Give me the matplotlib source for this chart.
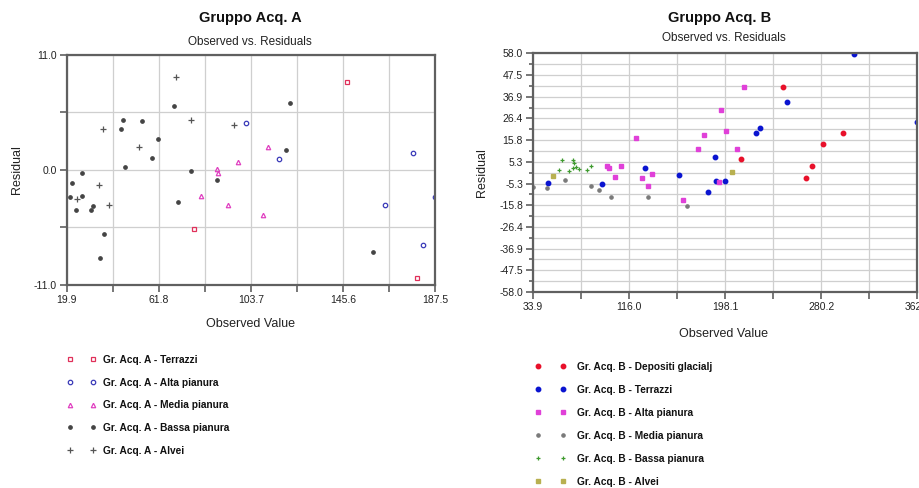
import matplotlib
matplotlib.use("Agg")
import matplotlib.pyplot as plt
from matplotlib.ticker import FixedLocator, FixedFormatter

plt.rcParams['font.family'] = ['Liberation Sans', 'DejaVu Sans']

# ---------------- Gruppo Acq. A ----------------
a_terrazzi_x = [147.6, 77.7, 179.2]
a_terrazzi_y = [8.42, -5.68, -10.36]

a_alta_x = [101.5, 116.5, 177.3, 164.6, 187.5, 182.2]
a_alta_y = [4.53, 1.08, 1.59, -3.32, -2.61, -7.21]

a_media_x = [88.5, 88.9, 97.7, 81.2, 93.5, 111.7, 109.1]
a_media_y = [0.06, -0.26, 0.73, -2.49, -3.35, 2.23, -4.27]

a_bassa_x = [68.7, 121.5, 45.5, 54.0, 44.5, 61.5, 58.7, 46.4, 26.7, 76.6,
             22.3, 88.2, 21.6, 26.7, 24.1, 30.8, 32.0, 70.6, 37.0, 35.2,
             159.4, 119.7]
a_bassa_y = [6.15, 6.38, 4.78, 4.69, 3.89, 2.93, 1.18, 0.32, -0.26, -0.13,
             -1.28, -0.96, -2.61, -2.52, -3.86, -3.83, -3.41, -3.09, -6.15, -8.42,
             -7.81, 1.91]

a_alvei_x = [69.5, 76.3, 96.0, 36.3, 52.8, 34.8, 24.5, 39.3]
a_alvei_y = [8.93, 4.75, 4.27, 3.89, 2.17, -1.47, -2.81, -3.38]

a_labels = ["Gr. Acq. A - Terrazzi", "Gr. Acq. A - Alta pianura",
            "Gr. Acq. A - Media pianura", "Gr. Acq. A - Bassa pianura",
            "Gr. Acq. A - Alvei"]
a_xticks = [19.9, 61.8, 103.7, 145.6, 187.5]
a_xtick_labels = ["19.9", "61.8", "103.7", "145.6", "187.5"]
a_yticks = [-11.0, 0.0, 11.0]
a_ytick_labels = ["-11.0", "0.0", "11.0"]

# ---------------- Gruppo Acq. B ----------------
b_glaciali_x = [247.4, 299.0, 281.9, 212.1, 272.2, 267.4]
b_glaciali_y = [41.66, 19.5, 14.0, 6.55, 3.0, -2.83]

b_terrazzi_x = [308.1, 250.8, 362.3, 228.3, 224.6, 189.8, 130.0, 158.8,
                190.1, 198.1, 183.8, 46.7, 93.5]
b_terrazzi_y = [57.5, 34.4, 24.5, 21.8, 19.2, 7.68, 2.18, -1.38,
                -4.13, -4.29, -9.63, -5.26, -5.42]

b_alta_x = [214.3, 194.4, 199.0, 180.4, 122.0, 175.3, 208.4, 97.2, 99.2,
            109.7, 104.6, 127.4, 136.0, 132.2, 193.0, 161.9]
b_alta_y = [41.66, 30.3, 20.1, 18.4, 16.6, 11.7, 11.4, 3.0, 2.5,
            3.0, -2.35, -2.67, -0.57, -6.7, -4.6, -13.5]

b_media_x = [34.5, 46.2, 83.8, 90.9, 101.2, 132.8, 61.8, 165.9]
b_media_y = [-6.9, -7.5, -6.4, -8.3, -11.6, -11.9, -3.5, -16.4]

b_bassa_x = [59.3, 68.1, 69.0, 56.7, 65.0, 68.4, 71.0, 73.8, 80.4, 84.1]
b_bassa_y = [6.1, 6.1, 4.8, 1.2, 0.56, 2.2, 2.67, 1.9, 1.05, 3.3]

b_alvei_x = [51.3, 204.1]
b_alvei_y = [-1.5, 0.24]

b_labels = ["Gr. Acq. B - Depositi glacialj", "Gr. Acq. B - Terrazzi",
            "Gr. Acq. B - Alta pianura", "Gr. Acq. B - Media pianura",
            "Gr. Acq. B - Bassa pianura", "Gr. Acq. B - Alvei"]
b_xticks = [33.9, 116.0, 198.1, 280.2, 362.3]
b_xtick_labels = ["33.9", "116.0", "198.1", "280.2", "362.3"]
b_yticks = [58.0, 47.5, 36.9, 26.4, 15.8, 5.3, -5.3, -15.8, -26.4, -36.9, -47.5, -58.0]
b_ytick_labels = ["58.0", "47.5", "36.9", "26.4", "15.8", "5.3", "-5.3",
                  "-15.8", "-26.4", "-36.9", "-47.5", "-58.0"]

SPINE = "#606060"
GRID = "#cfcfcf"
TXT = "#222222"


def style_axes(ax, xticks, xlabels, yticks, ylabels, xminor, yminor):
    ax.set_axisbelow(True)
    for s in ax.spines.values():
        s.set_color(SPINE)
        s.set_linewidth(1.6)
    ax.xaxis.set_major_locator(FixedLocator(xticks))
    ax.xaxis.set_major_formatter(FixedFormatter(xlabels))
    ax.yaxis.set_major_locator(FixedLocator(yticks))
    ax.yaxis.set_major_formatter(FixedFormatter(ylabels))
    ax.xaxis.set_minor_locator(FixedLocator(xminor))
    ax.yaxis.set_minor_locator(FixedLocator(yminor))
    ax.tick_params(which='both', direction='out', color=SPINE, width=1.2,
                   length=5, labelsize=7.5, labelcolor=TXT, pad=2)
    ax.grid(which='both', color=GRID, linewidth=0.9)


fig = plt.figure(figsize=(9.2, 4.88), dpi=100)

# ---- chart A ----
axA = fig.add_axes([66.7 / 920, 1 - 285 / 488, 368.3 / 920, 230 / 488])
h1, = axA.plot(a_terrazzi_x, a_terrazzi_y, 's', ms=3.2, mfc='none', mec='#e0305a', mew=0.9, ls='none')
h2, = axA.plot(a_alta_x, a_alta_y, 'o', ms=3.2, mfc='none', mec='#3a3ab8', mew=0.9, ls='none')
h3, = axA.plot(a_media_x, a_media_y, '^', ms=3.2, mfc='none', mec='#e040c0', mew=0.9, ls='none')
h4, = axA.plot(a_bassa_x, a_bassa_y, 'o', ms=2.4, mfc='#444444', mec='#444444', ls='none')
h5, = axA.plot(a_alvei_x, a_alvei_y, '+', ms=4, mec='#555555', mew=0.9, ls='none')
axA.set_xlim(a_xticks[0], a_xticks[-1])
axA.set_ylim(a_yticks[0], a_yticks[-1])
a_step = (a_xticks[1] - a_xticks[0]) / 2
a_xminor = [a_xticks[0] + a_step * (2 * i + 1) for i in range(len(a_xticks) - 1)]
style_axes(axA, a_xticks, a_xtick_labels, a_yticks, a_ytick_labels, a_xminor, [-5.5, 5.5])
axA.set_xlabel("Observed Value", fontsize=9, color=TXT)
axA.set_ylabel("Residual", fontsize=9, color=TXT)
axA.xaxis.set_label_coords(0.5, -0.145)
axA.yaxis.set_label_coords(-0.12, 0.5)

fig.text(250 / 920, 1 - 18 / 488, "Gruppo Acq. A", ha='center', va='center',
         fontsize=10.5, fontweight='bold', color='#111111')
fig.text(250 / 920, 1 - 42 / 488, "Observed vs. Residuals", ha='center', va='center',
         fontsize=8.5, color=TXT)

legA = axA.legend([h1, h2, h3, h4, h5], a_labels, loc='upper left',
                  bbox_to_anchor=(67 / 920, 1 - 355 / 488), bbox_transform=fig.transFigure,
                  numpoints=2, frameon=False, borderpad=0, borderaxespad=0,
                  handlelength=2.9, handletextpad=0.7, labelspacing=1.25,
                  prop={'size': 7.3, 'weight': 'bold'})
for t in legA.get_texts():
    t.set_color('#111111')

# ---- chart B ----
axB = fig.add_axes([532.7 / 920, 1 - 292 / 488, 384.5 / 920, 238.7 / 488])
g1, = axB.plot(b_glaciali_x, b_glaciali_y, 'o', ms=3.2, mfc='#e8102a', mec='#e8102a', ls='none')
g2, = axB.plot(b_terrazzi_x, b_terrazzi_y, 'o', ms=3.2, mfc='#0a14d0', mec='#0a14d0', ls='none')
g3, = axB.plot(b_alta_x, b_alta_y, 's', ms=2.7, mfc='#e040d8', mec='#e040d8', ls='none')
g4, = axB.plot(b_media_x, b_media_y, 'o', ms=2.3, mfc='#7a7a7a', mec='#7a7a7a', ls='none')
g5, = axB.plot(b_bassa_x, b_bassa_y, '+', ms=3.2, mec='#3e9a2e', mew=0.9, ls='none')
g6, = axB.plot(b_alvei_x, b_alvei_y, 's', ms=3.0, mfc='#b8b050', mec='#b8b050', ls='none')
axB.set_xlim(b_xticks[0], b_xticks[-1])
axB.set_ylim(b_yticks[-1], b_yticks[0])
b_step = (b_xticks[1] - b_xticks[0]) / 2
b_xminor = [b_xticks[0] + b_step * (2 * i + 1) for i in range(len(b_xticks) - 1)]
b_ystep = (b_yticks[0] - b_yticks[-1]) / (len(b_yticks) - 1) / 2
b_yminor = [b_yticks[-1] + b_ystep * (2 * i + 1) for i in range(len(b_yticks) - 1)]
style_axes(axB, b_xticks, b_xtick_labels, b_yticks, b_ytick_labels, b_xminor, b_yminor)
axB.tick_params(axis='y', which='minor', length=3)
axB.set_xlabel("Observed Value", fontsize=9, color=TXT)
axB.set_ylabel("Residual", fontsize=9, color=TXT)
axB.xaxis.set_label_coords(0.496, -0.152)
axB.yaxis.set_label_coords(-0.115, 0.5)

fig.text(720 / 920, 1 - 18 / 488, "Gruppo Acq. B", ha='center', va='center',
         fontsize=10.5, fontweight='bold', color='#111111')
fig.text(724 / 920, 1 - 38 / 488, "Observed vs. Residuals", ha='center', va='center',
         fontsize=8.5, color=TXT)

legB = axB.legend([g1, g2, g3, g4, g5, g6], b_labels, loc='upper left',
                  bbox_to_anchor=(535 / 920, 1 - 362 / 488), bbox_transform=fig.transFigure,
                  numpoints=2, frameon=False, borderpad=0, borderaxespad=0,
                  handlelength=3.05, handletextpad=1.1, labelspacing=1.28,
                  prop={'size': 7.3, 'weight': 'bold'})
for t in legB.get_texts():
    t.set_color('#111111')

fig.savefig("out.png", dpi=100)
